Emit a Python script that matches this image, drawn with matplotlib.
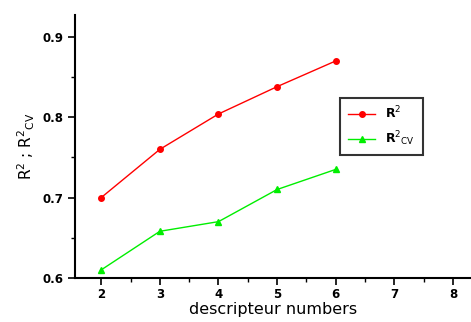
import matplotlib.pyplot as plt
from matplotlib.ticker import MultipleLocator

descriptors = [2, 3, 4, 5, 6]
r2 = [0.700, 0.760, 0.804, 0.838, 0.870]
r2_cv = [0.610, 0.658, 0.670, 0.710, 0.735]
xticks = [2, 3, 4, 5, 6, 7, 8]
yticks = [0.6, 0.7, 0.8, 0.9]

fig = plt.figure(figsize=(4.71, 3.22), dpi=100)
ax = fig.add_axes([0.159, 0.137, 0.84, 0.816])

ax.plot(descriptors, r2, color="#ff0000", lw=1, marker="o", ms=4, label="R$^2$")
ax.plot(descriptors, r2_cv, color="#00ee00", lw=1, marker="^", ms=5,
        label="R$^2$$_{\\mathrm{CV}}$")

ax.set_xlim(1.55, 8.3)
ax.set_ylim(0.6, 0.927)
ax.set_xticks(xticks)
ax.set_yticks(yticks)
ax.set_yticklabels([f"{v:.1f}" for v in yticks])
ax.xaxis.set_minor_locator(MultipleLocator(0.5))
ax.yaxis.set_minor_locator(MultipleLocator(0.05))
ax.tick_params(which="major", direction="out", length=5, width=1.2, labelsize=8.5)
ax.tick_params(axis="x", which="major", pad=2)
ax.tick_params(which="minor", direction="out", length=3, width=1)
for lab in ax.get_xticklabels() + ax.get_yticklabels():
    lab.set_fontweight("bold")

for s in ["top", "right"]:
    ax.spines[s].set_visible(False)
for s in ["left", "bottom"]:
    ax.spines[s].set_linewidth(1.5)

ax.set_xlabel("descripteur numbers", fontsize=11.5, labelpad=1)
ax.set_ylabel("R$^2$ ; R$^2$$_{\\mathrm{CV}}$", fontsize=11)

leg = ax.legend(loc="upper left", bbox_to_anchor=(0.655, 0.71), fontsize=9,
                frameon=True, fancybox=False, edgecolor="black",
                handlelength=2.2, borderpad=0.6, labelspacing=0.6)
leg.get_frame().set_linewidth(1.5)
for t in leg.get_texts():
    t.set_fontweight("bold")

plt.savefig("out.png", dpi=100)
